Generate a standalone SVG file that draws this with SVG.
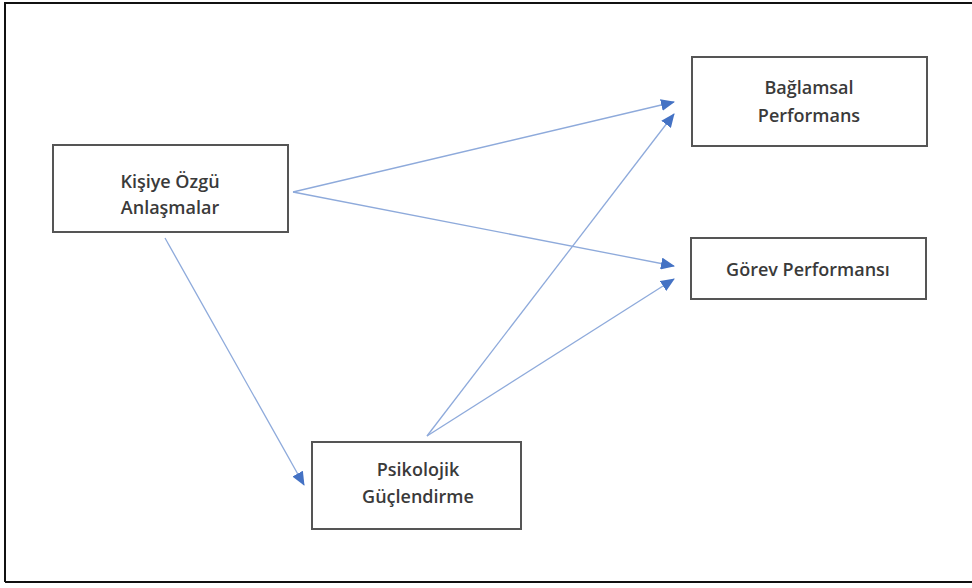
<svg xmlns="http://www.w3.org/2000/svg" width="972" height="588" viewBox="0 0 972 588">
<defs>
<marker id="ah" markerUnits="userSpaceOnUse" markerWidth="14" markerHeight="12" viewBox="0 0 14 12" refX="13" refY="6" orient="auto">
<path d="M0,0 L14,6 L0,12 Z" fill="#4472c4"/>
</marker>
<style>
.box{fill:#fff;stroke:#555;stroke-width:2}
.lbl{font-family:"Open Sans","Liberation Sans",sans-serif;font-size:18px;font-weight:600;fill:#3a3a3a;text-anchor:middle}
.con{stroke:#8eaadb;stroke-width:1.3;fill:none;marker-end:url(#ah)}
</style>
</defs>
<rect x="0" y="0" width="972" height="588" fill="#fff"/>
<path d="M5,582 V3 H975" fill="none" stroke="#111" stroke-width="2"/>
<path d="M5,582 H975" fill="none" stroke="#111" stroke-width="2"/>
<g id="connectors">
<line class="con" x1="293" y1="192" x2="674" y2="102"/>
<line class="con" x1="293" y1="192" x2="674" y2="266"/>
<line class="con" x1="165" y1="238" x2="304" y2="485"/>
<line class="con" x1="427" y1="436" x2="674" y2="114"/>
<line class="con" x1="427" y1="436" x2="674" y2="279"/>
</g>
<g id="kisiye">
<rect class="box" x="53" y="145" width="235" height="87"/>
<text class="lbl" x="170" y="188">Kişiye Özgü</text>
<text class="lbl" x="170" y="214">Anlaşmalar</text>
</g>
<g id="baglamsal">
<rect class="box" x="692" y="57" width="235" height="89"/>
<text class="lbl" x="809" y="94">Bağlamsal</text>
<text class="lbl" x="809" y="122">Performans</text>
</g>
<g id="gorev">
<rect class="box" x="691" y="238" width="235" height="61"/>
<text class="lbl" x="808" y="276">Görev Performansı</text>
</g>
<g id="psikolojik">
<rect class="box" x="312" y="442" width="209" height="87"/>
<text class="lbl" x="418" y="476">Psikolojik</text>
<text class="lbl" x="418" y="503">Güçlendirme</text>
</g>
</svg>
